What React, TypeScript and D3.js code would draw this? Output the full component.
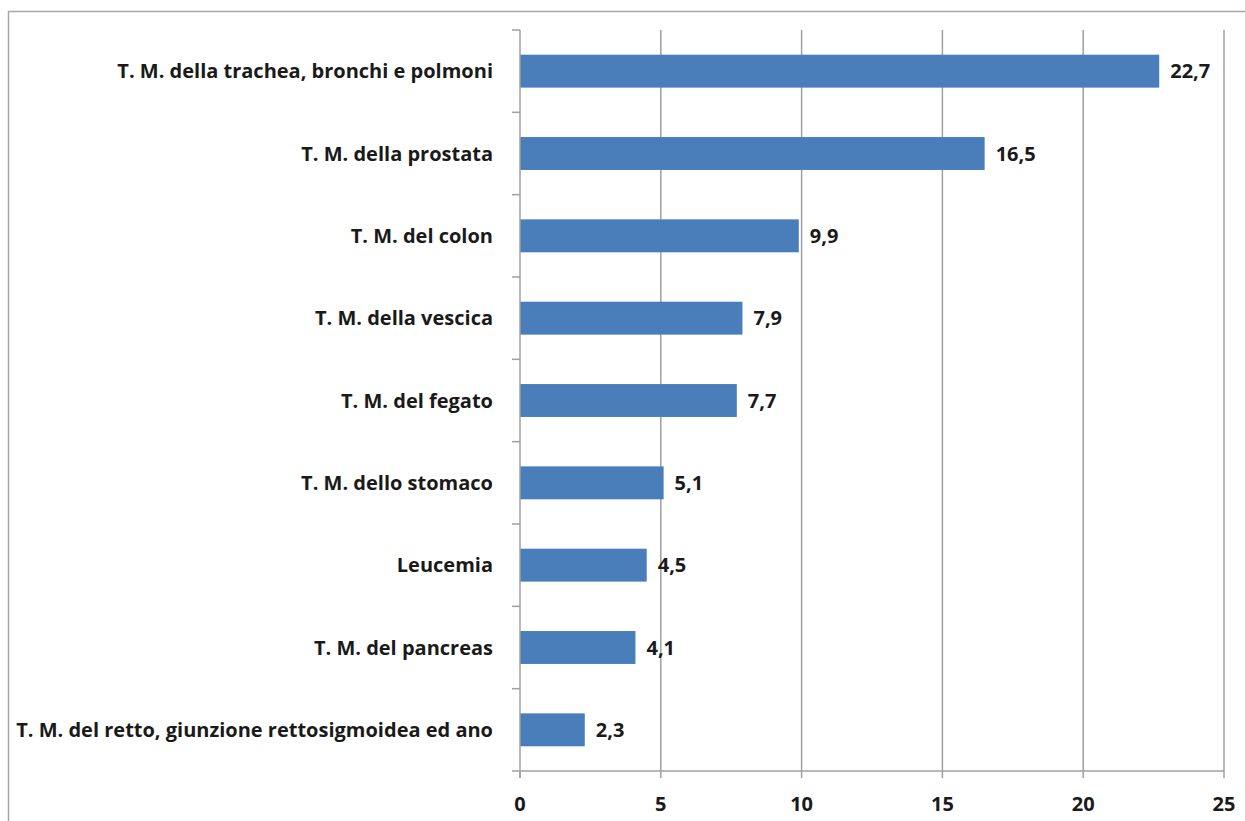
import React, { useEffect, useRef } from 'react';
import * as d3 from 'd3';

const categories = [
  'T. M. della trachea, bronchi e polmoni',
  'T. M. della prostata',
  'T. M. del colon',
  'T. M. della vescica',
  'T. M. del fegato',
  'T. M. dello stomaco',
  'Leucemia',
  'T. M. del pancreas',
  'T. M. del retto, giunzione rettosigmoidea ed ano',
];
const values = [22.7, 16.5, 9.9, 7.9, 7.7, 5.1, 4.5, 4.1, 2.3];
const xTicks = [0, 5, 10, 15, 20, 25];

const W = 1245;
const H = 821;
const FONT = "'Open Sans', sans-serif";
const FS = 20;

const App: React.FC = () => {
  const svgRef = useRef<SVGSVGElement>(null);

  useEffect(() => {
    if (!svgRef.current) return;
    const svg = d3.select(svgRef.current);
    svg.selectAll('*').remove();

    const left = 520;
    const right = 1224;
    const top = 30;
    const bottom = 771;

    // chart frame (only top and left edges are inside the picture)
    svg.append('rect')
      .attr('x', 8.5).attr('y', 11.5)
      .attr('width', W + 20).attr('height', H + 20)
      .attr('fill', '#fff')
      .attr('stroke', '#a6a6a6')
      .attr('stroke-width', 1.5);

    const x = d3.scaleLinear().domain([0, 25]).range([left, right]);
    const y = d3.scaleBand<string>().domain(categories).range([top, bottom]).paddingInner(0.6).paddingOuter(0.3);
    const band = d3.scaleBand<string>().domain(categories).range([top, bottom]);

    // vertical gridlines
    svg.append('g').selectAll('line')
      .data(xTicks.slice(1))
      .join('line')
      .attr('x1', d => x(d)).attr('x2', d => x(d))
      .attr('y1', top).attr('y2', bottom)
      .attr('stroke', '#a0a0a0').attr('stroke-width', 1.5);

    // bars
    svg.append('g').selectAll('rect')
      .data(values)
      .join('rect')
      .attr('x', x(0))
      .attr('y', (_, i) => y(categories[i])!)
      .attr('width', d => x(d) - x(0))
      .attr('height', y.bandwidth())
      .attr('fill', '#4a7ebb');

    const textStyle = (sel: d3.Selection<any, any, any, any>) =>
      sel.attr('font-family', FONT)
        .attr('font-weight', 'bold')
        .attr('font-size', FS)
        .attr('fill', '#1a1a1a');

    // value labels
    svg.append('g').selectAll('text')
      .data(values)
      .join('text')
      .attr('x', d => x(d) + 11)
      .attr('y', (_, i) => y(categories[i])! + y.bandwidth() / 2)
      .attr('dy', '0.35em')
      .call(textStyle)
      .text(d => d.toFixed(1).replace('.', ','));

    // x axis
    const xAxis = svg.append('g');
    xAxis.append('line')
      .attr('x1', left - 8).attr('x2', right)
      .attr('y1', bottom).attr('y2', bottom)
      .attr('stroke', '#a0a0a0').attr('stroke-width', 1.5);
    xAxis.selectAll('line.tick')
      .data(xTicks)
      .join('line')
      .attr('class', 'tick')
      .attr('x1', d => x(d)).attr('x2', d => x(d))
      .attr('y1', bottom).attr('y2', bottom + 7)
      .attr('stroke', '#a0a0a0').attr('stroke-width', 1.5);
    xAxis.selectAll('text')
      .data(xTicks)
      .join('text')
      .attr('x', d => x(d))
      .attr('y', 811)
      .attr('text-anchor', 'middle')
      .call(textStyle)
      .text(d => String(d));

    // y axis
    const yAxis = svg.append('g');
    yAxis.append('line')
      .attr('x1', left).attr('x2', left)
      .attr('y1', top).attr('y2', bottom + 7)
      .attr('stroke', '#a0a0a0').attr('stroke-width', 1.5);
    const edges = categories.map(c => band(c)!);
    yAxis.selectAll('line.tick')
      .data(edges)
      .join('line')
      .attr('class', 'tick')
      .attr('x1', left - 8).attr('x2', left)
      .attr('y1', d => d).attr('y2', d => d)
      .attr('stroke', '#a0a0a0').attr('stroke-width', 1.5);
    yAxis.selectAll('text')
      .data(categories)
      .join('text')
      .attr('x', 493)
      .attr('y', d => y(d)! + y.bandwidth() / 2)
      .attr('dy', '0.35em')
      .attr('text-anchor', 'end')
      .call(textStyle)
      .text(d => d);
  }, []);

  return (
    <svg
      ref={svgRef}
      width={W}
      height={H}
      style={{ position: 'fixed', left: 0, top: 0, background: '#fff' }}
    />
  );
};

export default App;
